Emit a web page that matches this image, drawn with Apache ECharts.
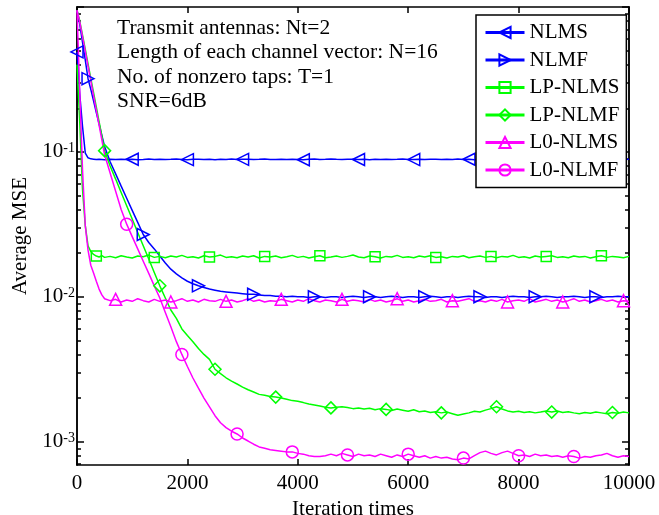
<!DOCTYPE html>
<html>
<head>
<meta charset="utf-8">
<title></title>
<style>
  html, body { margin: 0; padding: 0; background: #fff; }
  #main { width: 659px; height: 515px; }
</style>
<script src="https://cdn.jsdelivr.net/npm/echarts@6/dist/echarts.min.js"></script>
</head>
<body>
<div id="main"></div>
<script>
var iters = [0, 50, 100, 150, 200, 250, 300, 350, 400, 450, 500,
  600, 700, 800, 900, 1000, 1100, 1200, 1300, 1400, 1500,
  1600, 1700, 1800, 1900, 2000, 2100, 2200, 2300, 2400, 2500,
  2600, 2700, 2800, 2900, 3000, 3100, 3200, 3300, 3400, 3500,
  3600, 3700, 3800, 3900, 4000, 4100, 4200, 4300, 4400, 4500,
  4600, 4700, 4800, 4900, 5000, 5100, 5200, 5300, 5400, 5500,
  5600, 5700, 5800, 5900, 6000, 6100, 6200, 6300, 6400, 6500,
  6600, 6700, 6800, 6900, 7000, 7100, 7200, 7300, 7400, 7500,
  7600, 7700, 7800, 7900, 8000, 8100, 8200, 8300, 8400, 8500,
  8600, 8700, 8800, 8900, 9000, 9100, 9200, 9300, 9400, 9500,
  9600, 9700, 9800, 9900, 10000];

var nlms = [0.49, 0.25, 0.15, 0.098, 0.091, 0.0895, 0.089, 0.0885, 0.089, 0.0887, 0.0884,
  0.0888, 0.0885, 0.0891, 0.0886, 0.0889, 0.0884, 0.0887, 0.0892, 0.0886, 0.0889,
  0.0885, 0.0888, 0.0893, 0.0887, 0.0884, 0.0889, 0.0891, 0.0886, 0.0888, 0.0884,
  0.0889, 0.0887, 0.0892, 0.0885, 0.0888, 0.0891, 0.0886, 0.0889, 0.0893, 0.0887,
  0.0885, 0.0889, 0.0887, 0.0891, 0.0886, 0.0883, 0.0888, 0.0892, 0.0887, 0.0889,
  0.0894, 0.0888, 0.0885, 0.0889, 0.0891, 0.0886, 0.0888, 0.0884, 0.0889, 0.0887,
  0.0891, 0.0886, 0.0889, 0.0893, 0.0887, 0.0885, 0.0889, 0.0886, 0.0891, 0.0888,
  0.0885, 0.0889, 0.0887, 0.0892, 0.0886, 0.0889, 0.0884, 0.0888, 0.0891, 0.0887,
  0.0889, 0.0886, 0.0891, 0.0888, 0.0884, 0.0889, 0.0893, 0.0887, 0.0885, 0.0889,
  0.0887, 0.0891, 0.0886, 0.0889, 0.0888, 0.0884, 0.0889, 0.0892, 0.0886, 0.0888,
  0.0891, 0.0886, 0.0889, 0.0887, 0.089];

var nlmf = [0.95, 0.76, 0.57, 0.43, 0.32, 0.27, 0.225, 0.187, 0.156, 0.13, 0.109,
  0.0855, 0.0705, 0.058, 0.0479, 0.0395, 0.0326, 0.0269, 0.0237, 0.0214, 0.0191,
  0.0171, 0.0155, 0.0144, 0.0135, 0.0128, 0.0123, 0.0119, 0.0116, 0.0113, 0.0111,
  0.0109, 0.0108, 0.0107, 0.0106, 0.0105, 0.0104, 0.0104, 0.0103, 0.0102, 0.0102,
  0.0101, 0.0101, 0.0100, 0.0101, 0.0100, 0.0100, 0.0099, 0.0100, 0.0100, 0.0099,
  0.0100, 0.0100, 0.0099, 0.0100, 0.0101, 0.0100, 0.0099, 0.0100, 0.0100, 0.0099,
  0.0100, 0.0101, 0.0100, 0.0099, 0.0100, 0.0100, 0.0099, 0.0100, 0.0101, 0.0100,
  0.0099, 0.0100, 0.0100, 0.0099, 0.0100, 0.0101, 0.0100, 0.0100, 0.0099, 0.0100,
  0.0100, 0.0099, 0.0100, 0.0101, 0.0100, 0.0100, 0.0099, 0.0100, 0.0100, 0.0101,
  0.0100, 0.0099, 0.0100, 0.0100, 0.0101, 0.0100, 0.0099, 0.0100, 0.0100, 0.0099,
  0.0100, 0.0100, 0.0101, 0.0100, 0.0100];

var lpNlms = [0.40, 0.16, 0.055, 0.031, 0.0225, 0.0205, 0.0196, 0.0191, 0.0188, 0.0192, 0.0187,
  0.0190, 0.0186, 0.0192, 0.0188, 0.0185, 0.0191, 0.0189, 0.0194, 0.0187, 0.0190,
  0.0186, 0.0191, 0.0188, 0.0193, 0.0187, 0.0189, 0.0185, 0.0192, 0.0188, 0.0190,
  0.0194, 0.0187, 0.0189, 0.0186, 0.0191, 0.0188, 0.0192, 0.0185, 0.0190, 0.0188,
  0.0191, 0.0186, 0.0189, 0.0193, 0.0187, 0.0190, 0.0185, 0.0189, 0.0192, 0.0186,
  0.0188, 0.0191, 0.0187, 0.0190, 0.0194, 0.0188, 0.0186, 0.0191, 0.0189, 0.0185,
  0.0190, 0.0188, 0.0193, 0.0187, 0.0189, 0.0186, 0.0191, 0.0188, 0.0192, 0.0187,
  0.0189, 0.0185, 0.0190, 0.0188, 0.0192, 0.0186, 0.0189, 0.0191, 0.0187, 0.0190,
  0.0186, 0.0190, 0.0188, 0.0193, 0.0187, 0.0189, 0.0185, 0.0191, 0.0188, 0.0190,
  0.0192, 0.0187, 0.0189, 0.0186, 0.0191, 0.0188, 0.0190, 0.0185, 0.0189, 0.0192,
  0.0187, 0.0190, 0.0188, 0.0186, 0.0190];

var lpNlmf = [0.95, 0.80, 0.64, 0.51, 0.405, 0.322, 0.256, 0.204, 0.162, 0.129, 0.102,
  0.080, 0.0649, 0.0525, 0.0425, 0.0344, 0.0278, 0.0225, 0.0182, 0.0147, 0.0119,
  0.0098, 0.0081, 0.0071, 0.0060, 0.0054, 0.0049, 0.0044, 0.0040, 0.0037, 0.00316,
  0.00295, 0.00276, 0.00262, 0.00250, 0.00238, 0.00228, 0.00220, 0.00212, 0.00209, 0.00205,
  0.00203, 0.00200, 0.00196, 0.00192, 0.00190, 0.00186, 0.00182, 0.00179, 0.00176, 0.00173,
  0.00171, 0.00173, 0.00174, 0.00172, 0.00169, 0.00171, 0.00168, 0.00170, 0.00166, 0.00169,
  0.00167, 0.00164, 0.00168, 0.00165, 0.00162, 0.00166, 0.00161, 0.00163, 0.00159, 0.00161,
  0.00158, 0.00160, 0.00156, 0.00152, 0.00155, 0.00158, 0.00162, 0.00160, 0.00165, 0.00169,
  0.00174, 0.00168, 0.00163, 0.00160, 0.00162, 0.00159, 0.00161, 0.00158, 0.00160, 0.00163,
  0.00160, 0.00163, 0.00159, 0.00161, 0.00158, 0.00156, 0.00159, 0.00157, 0.00160, 0.00158,
  0.00156, 0.00159, 0.00157, 0.00160, 0.00158];

var l0Nlms = [0.95, 0.26, 0.075, 0.031, 0.021, 0.0165, 0.0146, 0.0128, 0.0113, 0.0103, 0.0097,
  0.0094, 0.0096, 0.0092, 0.0095, 0.0093, 0.0097, 0.0094, 0.0092, 0.0096, 0.0093,
  0.0095, 0.0092, 0.0094, 0.0097, 0.0093, 0.0095, 0.0092, 0.0096, 0.0094, 0.0093,
  0.0096, 0.0093, 0.0095, 0.0092, 0.0094, 0.0097, 0.0093, 0.0095, 0.0092, 0.0094,
  0.0093, 0.0096, 0.0094, 0.0092, 0.0095, 0.0093, 0.0097, 0.0094, 0.0092, 0.0095,
  0.0094, 0.0092, 0.0096, 0.0093, 0.0095, 0.0094, 0.0092, 0.0096, 0.0093, 0.0095,
  0.0092, 0.0094, 0.0097, 0.0093, 0.0095, 0.0092, 0.0094, 0.0096, 0.0093, 0.0094,
  0.0096, 0.0092, 0.0094, 0.0093, 0.0095, 0.0097, 0.0093, 0.0094, 0.0092, 0.0095,
  0.0093, 0.0096, 0.0092, 0.0094, 0.0095, 0.0093, 0.0097, 0.0092, 0.0094, 0.0096,
  0.0093, 0.0095, 0.0092, 0.0094, 0.0097, 0.0093, 0.0095, 0.0092, 0.0094, 0.0096,
  0.0093, 0.0095, 0.0092, 0.0094, 0.0093];

var l0Nlmf = [0.95, 0.79, 0.625, 0.494, 0.39, 0.309, 0.244, 0.193, 0.153, 0.121, 0.0955,
  0.0714, 0.0535, 0.040, 0.0317, 0.026, 0.0214, 0.0176, 0.0145, 0.0119, 0.0098,
  0.0078, 0.0062, 0.0049, 0.0040, 0.0033, 0.00275, 0.00234, 0.0020, 0.00174, 0.00151,
  0.00135, 0.00125, 0.00118, 0.00113, 0.00106, 0.00101, 0.00096, 0.00092, 0.00090, 0.00088,
  0.00087, 0.00086, 0.00085, 0.00085, 0.00083, 0.00082, 0.00080, 0.00079, 0.00079, 0.00080,
  0.00082, 0.00080, 0.00083, 0.00081, 0.00079, 0.00082, 0.00080, 0.00081, 0.00079, 0.00082,
  0.00080, 0.00078, 0.00081, 0.00079, 0.00082, 0.00080, 0.00078, 0.00080, 0.00077, 0.00079,
  0.00077, 0.00078, 0.00076, 0.00075, 0.00077, 0.00076, 0.00080, 0.00084, 0.00086, 0.00083,
  0.00081, 0.00084, 0.00086, 0.00083, 0.00080, 0.00081, 0.00079, 0.00082, 0.00080, 0.00081,
  0.00079, 0.00080, 0.00078, 0.00080, 0.00079, 0.00077, 0.00079, 0.00078, 0.00080, 0.00081,
  0.00083, 0.00080, 0.00078, 0.00080, 0.00079];

// iterations where a marker is drawn
var nlmsMarks = [0, 1000, 2000, 3000, 4100, 5100, 6100, 7100, 8100, 9100];
var nlmfMarks = [200, 1200, 2200, 3200, 4300, 5300, 6300, 7300, 8300, 9400];
var lpNlmsMarks = [350, 1400, 2400, 3400, 4400, 5400, 6500, 7500, 8500, 9500];
var lpNlmfMarks = [500, 1500, 2500, 3600, 4600, 5600, 6600, 7600, 8600, 9700];
var l0NlmsMarks = [700, 1700, 2700, 3700, 4800, 5800, 6800, 7800, 8800, 9900];
var l0NlmfMarks = [900, 1900, 2900, 3900, 4900, 6000, 7000, 8000, 9000];

var yLabelValues = [0.001, 0.01, 0.1];
var yMajorTicks = [0.001, 0.01, 0.1, 1];
var yMinorTicks = [0.0007, 0.0008, 0.0009,
  0.002, 0.003, 0.004, 0.005, 0.006, 0.007, 0.008, 0.009,
  0.02, 0.03, 0.04, 0.05, 0.06, 0.07, 0.08, 0.09,
  0.2, 0.3, 0.4, 0.5, 0.6, 0.7, 0.8, 0.9];

var notes = ['Transmit antennas: Nt=2',
  'Length of each channel vector: N=16',
  'No. of nonzero taps: T=1',
  'SNR=6dB'];

var FONT = "'Liberation Serif', 'Times New Roman', serif";
var BLUE = '#0000ff', GREEN = '#00ff00', MAGENTA = '#ff00ff';
var yMin = 0.00069;

function build(vals, marks) {
  var out = [];
  for (var i = 0; i < iters.length; i++) {
    var item = { value: [iters[i], vals[i]] };
    if (marks.indexOf(iters[i]) < 0) item.symbol = 'none';
    out.push(item);
  }
  return out;
}

function line(name, vals, marks, color, symbol, size, rotate) {
  return {
    name: name,
    type: 'line',
    data: build(vals, marks),
    symbol: symbol,
    symbolSize: size,
    symbolRotate: rotate || 0,
    showSymbol: true,
    showAllSymbol: true,
    animation: false,
    lineStyle: { color: color, width: 1.5 },
    itemStyle: { color: 'rgba(255,255,255,0)', borderColor: color, borderWidth: 1.5 }
  };
}

var axisLine = { show: true, lineStyle: { color: '#000', width: 1.5 } };
var tickStyle = { color: '#000', width: 1.5 };

function yAxisPart(side, ticks, len) {
  return {
    type: 'log', min: yMin, max: 1, position: side,
    axisLine: axisLine,
    axisTick: { show: true, inside: true, length: len, customValues: ticks, lineStyle: tickStyle },
    axisLabel: { show: false },
    splitLine: { show: false }
  };
}

var chart = echarts.init(document.getElementById('main'));
var leftMajor = yAxisPart('left', yMajorTicks, 7);
leftMajor.axisLabel = {
  customValues: yLabelValues, margin: 2,
  formatter: function (v) {
    return '{b|10}{s|' + Math.round(Math.log(v) / Math.LN10) + '}';
  },
  rich: {
    b: { fontSize: 21, fontFamily: FONT, color: '#000' },
    s: { fontSize: 14, fontFamily: FONT, color: '#000', verticalAlign: 'top' }
  }
};
leftMajor.name = 'Average MSE';
leftMajor.nameLocation = 'middle';
leftMajor.nameGap = 46;
leftMajor.nameTextStyle = { fontSize: 21, fontFamily: FONT, color: '#000' };

var option = {
  backgroundColor: '#fff',
  animation: false,
  grid: { left: 77, right: 30, top: 7, bottom: 50, outerBoundsMode: 'none' },
  legend: {
    orient: 'vertical',
    left: 476, top: 15,
    padding: [7, 7, 7, 8],
    itemWidth: 39, itemHeight: 14, itemGap: 6.5,
    backgroundColor: '#fff',
    borderColor: '#000', borderWidth: 1.5,
    z: 10,
    textStyle: { fontSize: 21, fontFamily: FONT, color: '#000' },
    lineStyle: { width: 3 }
  },
  graphic: [{
    type: 'text', left: 117, top: 16, z: 10,
    style: { text: notes.join('\n'), font: '21.5px ' + FONT, lineHeight: 24.5, fill: '#000' }
  }],
  xAxis: [{
    type: 'value', min: 0, max: 10000, interval: 2000, position: 'bottom',
    axisLine: axisLine,
    axisTick: { inside: true, length: 6, lineStyle: tickStyle },
    axisLabel: {
      fontSize: 21, fontFamily: FONT, color: '#000', margin: 8,
      formatter: function (v) { return String(v); }
    },
    splitLine: { show: false },
    name: 'Iteration times', nameLocation: 'middle', nameGap: 25,
    nameTextStyle: { fontSize: 21, fontFamily: FONT, color: '#000' }
  }, {
    type: 'value', min: 0, max: 10000, interval: 2000, position: 'top',
    axisLine: axisLine,
    axisTick: { inside: true, length: 6, lineStyle: tickStyle },
    axisLabel: { show: false },
    splitLine: { show: false }
  }],
  yAxis: [
    leftMajor,
    yAxisPart('left', yMinorTicks, 4),
    yAxisPart('right', yMajorTicks, 7),
    yAxisPart('right', yMinorTicks, 4)
  ],
  series: [
    line('NLMS', nlms, nlmsMarks, BLUE, 'triangle', 12, 90),
    line('NLMF', nlmf, nlmfMarks, BLUE, 'triangle', 12, -90),
    line('LP-NLMS', lpNlms, lpNlmsMarks, GREEN, 'rect', 10),
    line('LP-NLMF', lpNlmf, lpNlmfMarks, GREEN, 'diamond', 12),
    line('L0-NLMS', l0Nlms, l0NlmsMarks, MAGENTA, 'triangle', 12),
    line('L0-NLMF', l0Nlmf, l0NlmfMarks, MAGENTA, 'circle', 12)
  ]
};
chart.setOption(option);
window.onresize = chart.resize;
</script>
</body>
</html>
